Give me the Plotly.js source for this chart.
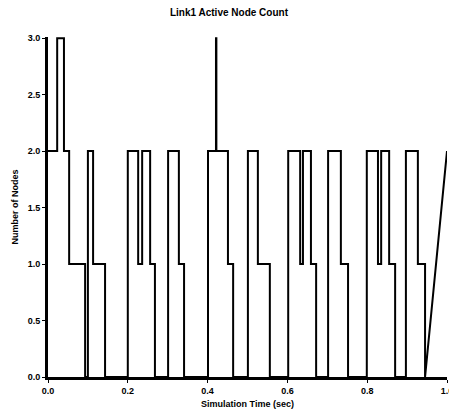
<!DOCTYPE html>
<html>
<head>
<meta charset="utf-8">
<script src="https://cdn.plot.ly/plotly-3.0.1.min.js"></script>
<style>html,body{margin:0;padding:0;background:#fff;}#chart{width:449px;height:415px;}</style>
</head>
<body>
<div id="chart"></div>
<script>
// Event times (sec) at which the active node count changes, and the new count
const eventTime = [0, 0.023, 0.040, 0.053, 0.093, 0.100, 0.113, 0.143, 0.200, 0.226, 0.236, 0.256, 0.268, 0.301, 0.328, 0.341, 0.401, 0.421, 0.422, 0.451, 0.464, 0.501, 0.526, 0.556, 0.602, 0.632, 0.639, 0.659, 0.672, 0.702, 0.734, 0.752, 0.799, 0.827, 0.835, 0.855, 0.870, 0.897, 0.927, 0.945, 1.0];
const nodeCount = [2, 3, 2, 1, 0, 2, 1, 0, 2, 1, 2, 1, 0, 2, 1, 0, 2, 3, 2, 1, 0, 2, 1, 0, 2, 1, 2, 1, 0, 2, 1, 0, 2, 1, 2, 1, 0, 2, 1, 0, 2];

const chartTitle = 'Link1 Active Node Count';
const xTitle = 'Simulation Time (sec)';
const yTitle = 'Number of Nodes';

// Step expansion (hold previous value until next event); final sample joined directly
const xs = [], ys = [];
for (let i = 0; i < eventTime.length; i++) {
  if (i > 0 && i < eventTime.length - 1) {
    xs.push(eventTime[i]); ys.push(nodeCount[i - 1]);
  }
  xs.push(eventTime[i]); ys.push(nodeCount[i]);
}

const fontFam = '"Liberation Sans", Arial, sans-serif';
const trace = {
  x: xs, y: ys, type: 'scatter', mode: 'lines',
  line: {color: '#000', width: 2},
  hoverinfo: 'skip'
};

const layout = {
  width: 449, height: 415,
  margin: {l: 48, r: 2, t: 37, b: 38},
  paper_bgcolor: '#fff', plot_bgcolor: '#fff',
  showlegend: false,
  title: {text: chartTitle, x: 0.51, xanchor: 'center', y: 0.969, yanchor: 'middle',
          font: {family: fontFam, size: 10, color: '#000', weight: 'bold'}},
  xaxis: {
    range: [0, 1.0], showgrid: false, zeroline: false,
    showline: true, linecolor: '#000', linewidth: 3,
    ticks: 'outside', ticklen: 3, tickcolor: '#000', tickwidth: 1,
    dtick: 0.2, tick0: 0, tickformat: '.1f',
    ticklabeloverflow: 'allow',
    tickfont: {family: fontFam, size: 9, color: '#000', weight: 'bold'},
    title: {text: xTitle, standoff: 6, font: {family: fontFam, size: 9, color: '#000', weight: 'bold'}}
  },
  yaxis: {
    range: [0, 3.01], showgrid: false, zeroline: false,
    showline: true, linecolor: '#000', linewidth: 3,
    ticks: 'outside', ticklen: 3, tickcolor: '#000', tickwidth: 1,
    dtick: 0.5, tick0: 0, tickformat: '.1f',
    tickfont: {family: fontFam, size: 9, color: '#000', weight: 'bold'},
    title: {text: yTitle, standoff: 8, font: {family: fontFam, size: 9, color: '#000', weight: 'bold'}}
  }
};

Plotly.newPlot('chart', [trace], layout, {staticPlot: true, displayModeBar: false});
</script>
</body>
</html>
